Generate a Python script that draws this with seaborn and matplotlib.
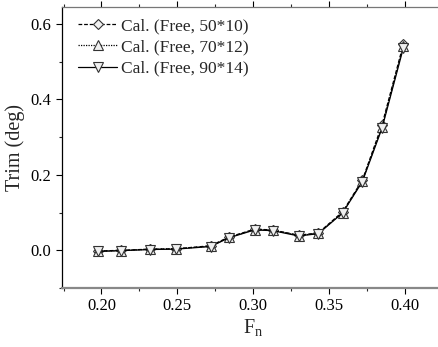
import numpy as np
import pandas as pd
import matplotlib
matplotlib.use("Agg")
import matplotlib.pyplot as plt
import seaborn as sns
from matplotlib.ticker import MultipleLocator

fn = [0.198, 0.213, 0.232, 0.249, 0.272, 0.284, 0.301, 0.313, 0.330, 0.343, 0.359, 0.372, 0.385, 0.399]
trim_50x10 = [-0.002, 0.000, 0.003, 0.004, 0.012, 0.035, 0.056, 0.054, 0.040, 0.046, 0.102, 0.186, 0.333, 0.546]
trim_70x12 = [-0.002, -0.001, 0.003, 0.004, 0.011, 0.034, 0.055, 0.053, 0.039, 0.045, 0.100, 0.184, 0.328, 0.541]
trim_90x14 = [-0.003, -0.001, 0.002, 0.003, 0.010, 0.033, 0.054, 0.052, 0.038, 0.044, 0.099, 0.182, 0.324, 0.536]
labels = ["Cal. (Free, 50*10)", "Cal. (Free, 70*12)", "Cal. (Free, 90*14)"]

sns.set_style("ticks")
plt.rcParams['font.family'] = ['Liberation Serif', 'DejaVu Serif']
plt.rcParams['mathtext.fontset'] = 'custom'
plt.rcParams['mathtext.rm'] = 'Liberation Serif'
plt.rcParams['mathtext.it'] = 'Liberation Serif:italic'

fig = plt.figure(figsize=(4.39, 3.47), dpi=100)
ax = fig.add_axes([62/439, 1-288/347, (445-62)/439, (288-7)/347])

series = [trim_50x10, trim_70x12, trim_90x14]
styles = [(0, (3, 1.5)), (0, (1, 1)), '-']
markers = ['D', '^', 'v']
msizes = [5.5, 7, 7]
for vals, lab, ls, mk, ms in zip(series, labels, styles, markers, msizes):
    df = pd.DataFrame({"Fn": fn, "Trim": vals})
    sns.lineplot(data=df, x="Fn", y="Trim", ax=ax, color='black', linestyle=ls,
                 marker=mk, markersize=ms, markerfacecolor='#f0f0f0',
                 markeredgecolor='#333333', markeredgewidth=0.8, linewidth=0.9, label=lab)

ax.set_xlim(0.174, 0.4265)
ax.set_ylim(-0.1, 0.645)
ax.xaxis.set_major_locator(MultipleLocator(0.05))
ax.xaxis.set_minor_locator(MultipleLocator(0.025))
ax.yaxis.set_major_locator(MultipleLocator(0.2))
ax.yaxis.set_minor_locator(MultipleLocator(0.1))
ax.tick_params(axis='both', which='major', length=4, width=0.8, direction='out', labelsize=12, colors='black')
ax.tick_params(axis='both', which='minor', length=2.5, width=0.8, direction='out')
ax.tick_params(axis='x', which='both', top=True, labeltop=False)
ax.set_xticklabels(['%.2f' % t for t in ax.get_xticks()])
ax.set_yticklabels(['%.1f' % t for t in ax.get_yticks()])

ax.spines['left'].set_color('black')
ax.spines['left'].set_linewidth(0.9)
ax.spines['top'].set_color('#777777')
ax.spines['top'].set_linewidth(0.9)
ax.spines['bottom'].set_color('#888888')
ax.spines['bottom'].set_linewidth(1.6)
ax.spines['right'].set_visible(False)

ax.set_xlabel(r'F$_{\mathrm{n}}$', fontsize=14.5, labelpad=2)
ax.set_ylabel('Trim (deg)', fontsize=14.5, labelpad=4)

leg = ax.legend(loc='upper left', frameon=False, fontsize=12.5, handlelength=2.25,
                handletextpad=0.25, labelspacing=0.3, borderaxespad=0.0, borderpad=0.0,
                bbox_to_anchor=(16/383, 1 - 11/281))

fig.savefig('out.png', dpi=100)
